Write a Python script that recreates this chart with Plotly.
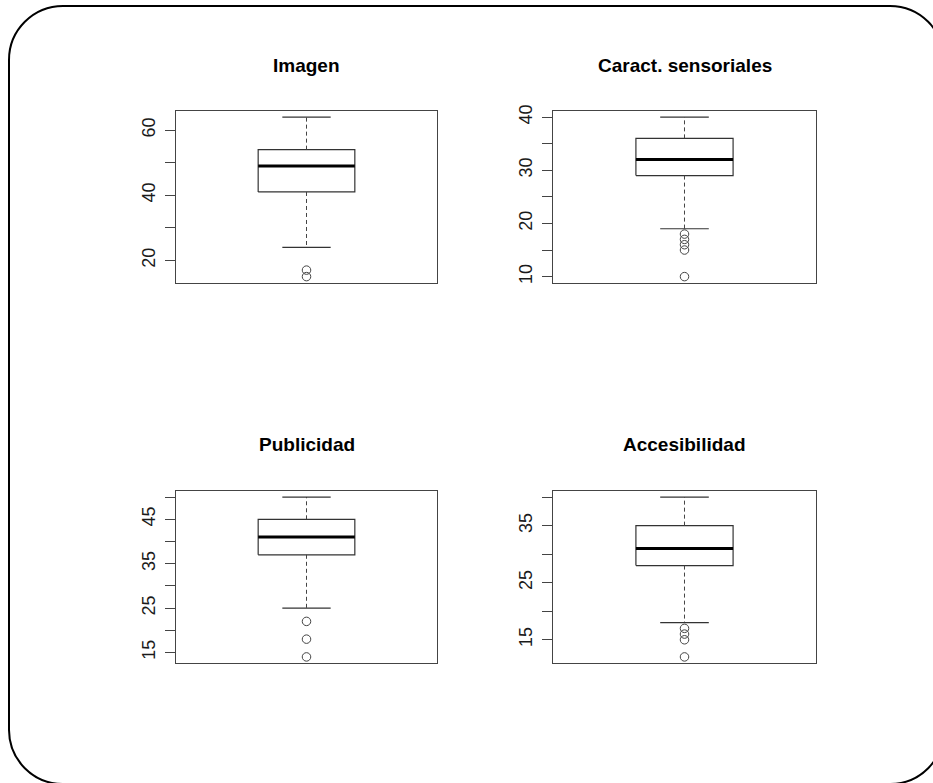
import plotly.graph_objects as go

# Summary statistics for each questionnaire dimension
titles = ["Imagen", "Caract. sensoriales", "Publicidad", "Accesibilidad"]
lower_whisker = [24, 19, 25, 18]
q1 = [41, 29, 37, 28]
median = [49, 32, 41, 31]
q3 = [54, 36, 45, 35]
upper_whisker = [64, 40, 50, 40]
outliers = [
    [17, 15],
    [18, 17, 16, 15, 10],
    [22, 18, 14],
    [17, 16, 15, 12],
]
tick_values = [
    [20, 30, 40, 50, 60],
    [10, 15, 20, 25, 30, 35, 40],
    [15, 20, 25, 30, 35, 40, 45, 50],
    [15, 20, 25, 30, 35, 40],
]
tick_labels = [
    ["20", "", "40", "", "60"],
    ["10", "", "20", "", "30", "", "40"],
    ["15", "", "25", "", "35", "", "45", ""],
    ["15", "", "25", "", "35", ""],
]

W, H = 933, 783
AXIS_COLOR = "#444444"
TEXT_COLOR = "#1a1a1a"
TITLE_FONT = "Liberation Sans, Arial, sans-serif"
TICK_FONT = "Liberation Sans, Arial, sans-serif"

# panel rectangles in pixels: (left, top, right, bottom)
panels = [
    (176, 110.7, 437, 283),
    (553.3, 110.7, 815.7, 283),
    (176, 490.7, 437, 663.3),
    (553.3, 490.7, 815.7, 663.3),
]
title_y = [65, 65, 445, 445]


def px_x(x):
    return x / W


def px_y(y):
    return 1 - y / H


fig = go.Figure()
layout = {}
annotations = []

BOX_L, BOX_R = 0.8, 1.2
CAP_L, CAP_R = 0.9, 1.1

for i in range(4):
    n = "" if i == 0 else str(i + 1)
    xa, ya = "x" + n, "y" + n
    l, t, r, b = panels[i]

    # box body
    fig.add_trace(go.Scatter(
        x=[BOX_L, BOX_R, BOX_R, BOX_L, BOX_L],
        y=[q1[i], q1[i], q3[i], q3[i], q1[i]],
        mode="lines", line=dict(color="#333333", width=1.2),
        xaxis=xa, yaxis=ya, hoverinfo="skip", showlegend=False,
    ))
    # dashed whiskers
    fig.add_trace(go.Scatter(
        x=[1, 1, None, 1, 1],
        y=[q3[i], upper_whisker[i], None, q1[i], lower_whisker[i]],
        mode="lines", line=dict(color=AXIS_COLOR, width=1, dash="4px,3px"),
        xaxis=xa, yaxis=ya, hoverinfo="skip", showlegend=False,
    ))
    # whisker caps
    fig.add_trace(go.Scatter(
        x=[CAP_L, CAP_R, None, CAP_L, CAP_R],
        y=[upper_whisker[i], upper_whisker[i], None, lower_whisker[i], lower_whisker[i]],
        mode="lines", line=dict(color="#333333", width=1.2),
        xaxis=xa, yaxis=ya, hoverinfo="skip", showlegend=False,
    ))
    # median
    fig.add_trace(go.Scatter(
        x=[BOX_L, BOX_R], y=[median[i], median[i]],
        mode="lines", line=dict(color="black", width=3),
        xaxis=xa, yaxis=ya, hoverinfo="skip", showlegend=False,
    ))
    # outliers
    fig.add_trace(go.Scatter(
        x=[1] * len(outliers[i]), y=outliers[i],
        mode="markers",
        marker=dict(symbol="circle-open", size=8.5, color=AXIS_COLOR, line=dict(width=1)),
        xaxis=xa, yaxis=ya, hoverinfo="skip", showlegend=False, cliponaxis=False,
    ))

    lo = min(outliers[i] + [lower_whisker[i]])
    hi = max(upper_whisker[i], q3[i])
    pad = 0.04 * (hi - lo)

    layout["xaxis" + n] = dict(
        domain=[px_x(l), px_x(r)], range=[0.46, 1.54], anchor=ya,
        showline=True, mirror=True, linecolor=AXIS_COLOR, linewidth=1,
        showgrid=False, zeroline=False, showticklabels=False, ticks="",
        fixedrange=True, automargin=False,
    )
    layout["yaxis" + n] = dict(
        domain=[px_y(b), px_y(t)], range=[lo - pad, hi + pad], anchor=xa,
        showline=True, mirror=True, linecolor=AXIS_COLOR, linewidth=1,
        showgrid=False, zeroline=False,
        tickmode="array", tickvals=tick_values[i], ticktext=tick_labels[i],
        ticks="outside", ticklen=10, tickwidth=1, tickcolor=AXIS_COLOR,
        tickangle=-90, ticklabelstandoff=3,
        tickfont=dict(family=TICK_FONT, size=18, color=TEXT_COLOR),
        fixedrange=True, automargin=False,
    )

    annotations.append(dict(
        text=titles[i], xref="paper", yref="paper",
        x=px_x((l + r) / 2), y=px_y(title_y[i]),
        xanchor="center", yanchor="middle", showarrow=False,
        font=dict(family=TITLE_FONT, size=19, color="black", weight="bold"),
    ))

# rounded frame around the whole figure
FL, FT, FR, FB, RAD = 9, 6, 944, 784, 54
K = 0.5523 * RAD


def pt(x, y):
    return f"{px_x(x):.5f},{px_y(y):.5f}"


frame_path = (
    f"M {pt(FL + RAD, FT)} L {pt(FR - RAD, FT)} "
    f"C {pt(FR - RAD + K, FT)} {pt(FR, FT + RAD - K)} {pt(FR, FT + RAD)} "
    f"L {pt(FR, FB - RAD)} "
    f"C {pt(FR, FB - RAD + K)} {pt(FR - RAD + K, FB)} {pt(FR - RAD, FB)} "
    f"L {pt(FL + RAD, FB)} "
    f"C {pt(FL + RAD - K, FB)} {pt(FL, FB - RAD + K)} {pt(FL, FB - RAD)} "
    f"L {pt(FL, FT + RAD)} "
    f"C {pt(FL, FT + RAD - K)} {pt(FL + RAD - K, FT)} {pt(FL + RAD, FT)} Z"
)

fig.update_layout(
    **layout,
    annotations=annotations,
    shapes=[dict(type="path", path=frame_path, xref="paper", yref="paper",
                 line=dict(color="black", width=2), layer="above")],
    width=W, height=H,
    margin=dict(l=0, r=0, t=0, b=0, pad=0, autoexpand=False),
    paper_bgcolor="white", plot_bgcolor="white",
    showlegend=False,
)

fig.write_html("out.html", config={"displayModeBar": False})
